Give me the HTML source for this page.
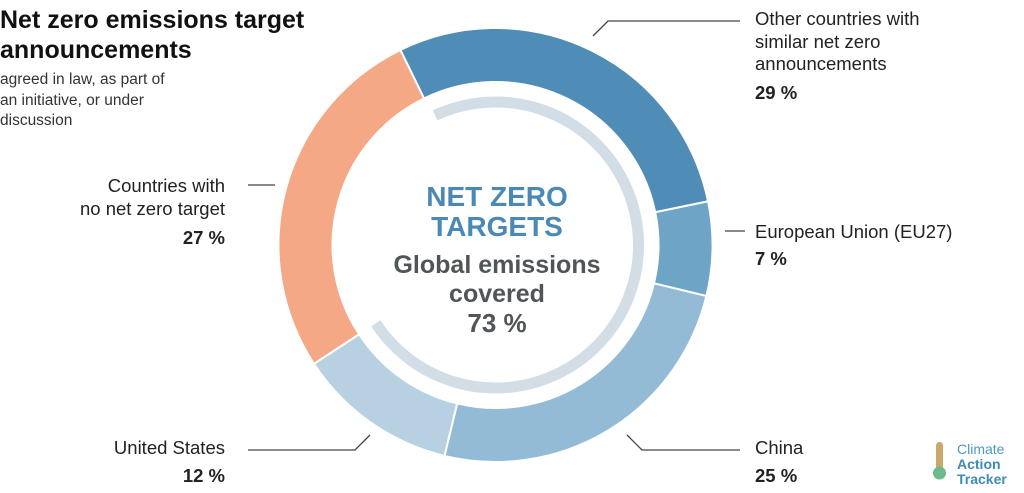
<!DOCTYPE html>
<html><head><meta charset="utf-8"><style>
body{margin:0;background:#fff;width:1024px;height:493px;overflow:hidden;font-family:"Liberation Sans",sans-serif;}
svg{position:absolute;left:0;top:0}
</style></head><body>
<svg id="c" width="1024" height="493">
<text x="0" y="28" font-size="25" font-weight="bold" fill="#111">Net zero emissions target</text>
<text x="0" y="58" font-size="25" font-weight="bold" fill="#111">announcements</text>
<text x="0" y="84" font-size="15.5" fill="#333">agreed in law, as part of</text>
<text x="0" y="105" font-size="15.5" fill="#333">an initiative, or under</text>
<text x="0" y="125" font-size="15.5" fill="#333">discussion</text>
<g id="ring"></g>
<g font-weight="bold" text-anchor="middle">
<text x="497" y="206" font-size="28" fill="#4a88b5">NET ZERO</text>
<text x="497" y="236" font-size="28" fill="#4a88b5">TARGETS</text>
<text x="497" y="273" font-size="25" fill="#505558">Global emissions</text>
<text x="497" y="302" font-size="25" fill="#505558">covered</text>
<text x="497" y="332" font-size="26" fill="#505558">73 %</text>
</g>
<g stroke="#444" stroke-width="1.3" fill="none">
<polyline points="593,36 608,21 740,21"/>
<polyline points="725,231 745,231"/>
<polyline points="627,435 642,450 740,450"/>
<polyline points="248,450 355,450 370,435"/>
<polyline points="248,185 275,185"/>
</g>
<g font-size="18.5" fill="#222">
<text x="755" y="25">Other countries with</text>
<text x="755" y="48">similar net zero</text>
<text x="755" y="70">announcements</text>
<text x="755" y="99" font-weight="bold">29 %</text>
<text x="755" y="238">European Union (EU27)</text>
<text x="755" y="265" font-weight="bold">7 %</text>
<text x="755" y="454">China</text>
<text x="755" y="482" font-weight="bold">25 %</text>
<text x="225" y="454" text-anchor="end">United States</text>
<text x="225" y="482" text-anchor="end" font-weight="bold">12 %</text>
<text x="225" y="192" text-anchor="end">Countries with</text>
<text x="225" y="215" text-anchor="end">no net zero target</text>
<text x="225" y="244" text-anchor="end" font-weight="bold">27 %</text>
</g>
<g>
<rect x="936" y="442" width="7" height="28" rx="3.5" fill="#c9a86a"/>
<circle cx="939.5" cy="473" r="6.5" fill="#6dbb8a"/>
<text x="957" y="454" font-size="14" fill="#4a9ac0">Climate</text>
<text x="957" y="469" font-size="14" font-weight="bold" fill="#3d8cb5">Action</text>
<text x="957" y="484" font-size="14" font-weight="bold" fill="#3d8cb5">Tracker</text>
</g>
</svg>
<script>
const categories=["Other countries with similar net zero announcements","European Union (EU27)","China","United States","Countries with no net zero target"];
const shares=[29,7,25,12,27];
const colors=["#508db6","#6ea4c6","#93bbd6","#b7d1e3","#f4a886"];
const coveredShare=[73];
const cx=495.5,cy=245,rO=217,rI=163,start=-26;
const ns="http://www.w3.org/2000/svg";
function pt(a,r){const t=(a-90)*Math.PI/180;return [cx+r*Math.cos(t),cy+r*Math.sin(t)];}
function angle(v){return v/100*360;}
const g=document.getElementById('ring');
let a=start;
shares.forEach((s,i)=>{
 const a2=a+angle(s),lg=angle(s)>180?1:0;
 const p1=pt(a,rO),p2=pt(a2,rO),p3=pt(a2,rI),p4=pt(a,rI);
 const p=document.createElementNS(ns,'path');
 p.setAttribute('d',`M${p1}A${rO},${rO} 0 ${lg} 1 ${p2}L${p3}A${rI},${rI} 0 ${lg} 0 ${p4}Z`);
 p.setAttribute('fill',colors[i]);p.setAttribute('stroke','#fff');p.setAttribute('stroke-width','2');
 
 
 g.appendChild(p);a=a2;
});
const ca=start+angle(coveredShare[0]),r=143;
const q1=pt(start+1,r),q2=pt(ca,r);
const arc=document.createElementNS(ns,'path');
arc.setAttribute('d',`M${q1}A${r},${r} 0 1 1 ${q2}`);
arc.setAttribute('fill','none');arc.setAttribute('stroke','#d3dde6');arc.setAttribute('stroke-width','11');


g.appendChild(arc);
</script>
</body></html>
